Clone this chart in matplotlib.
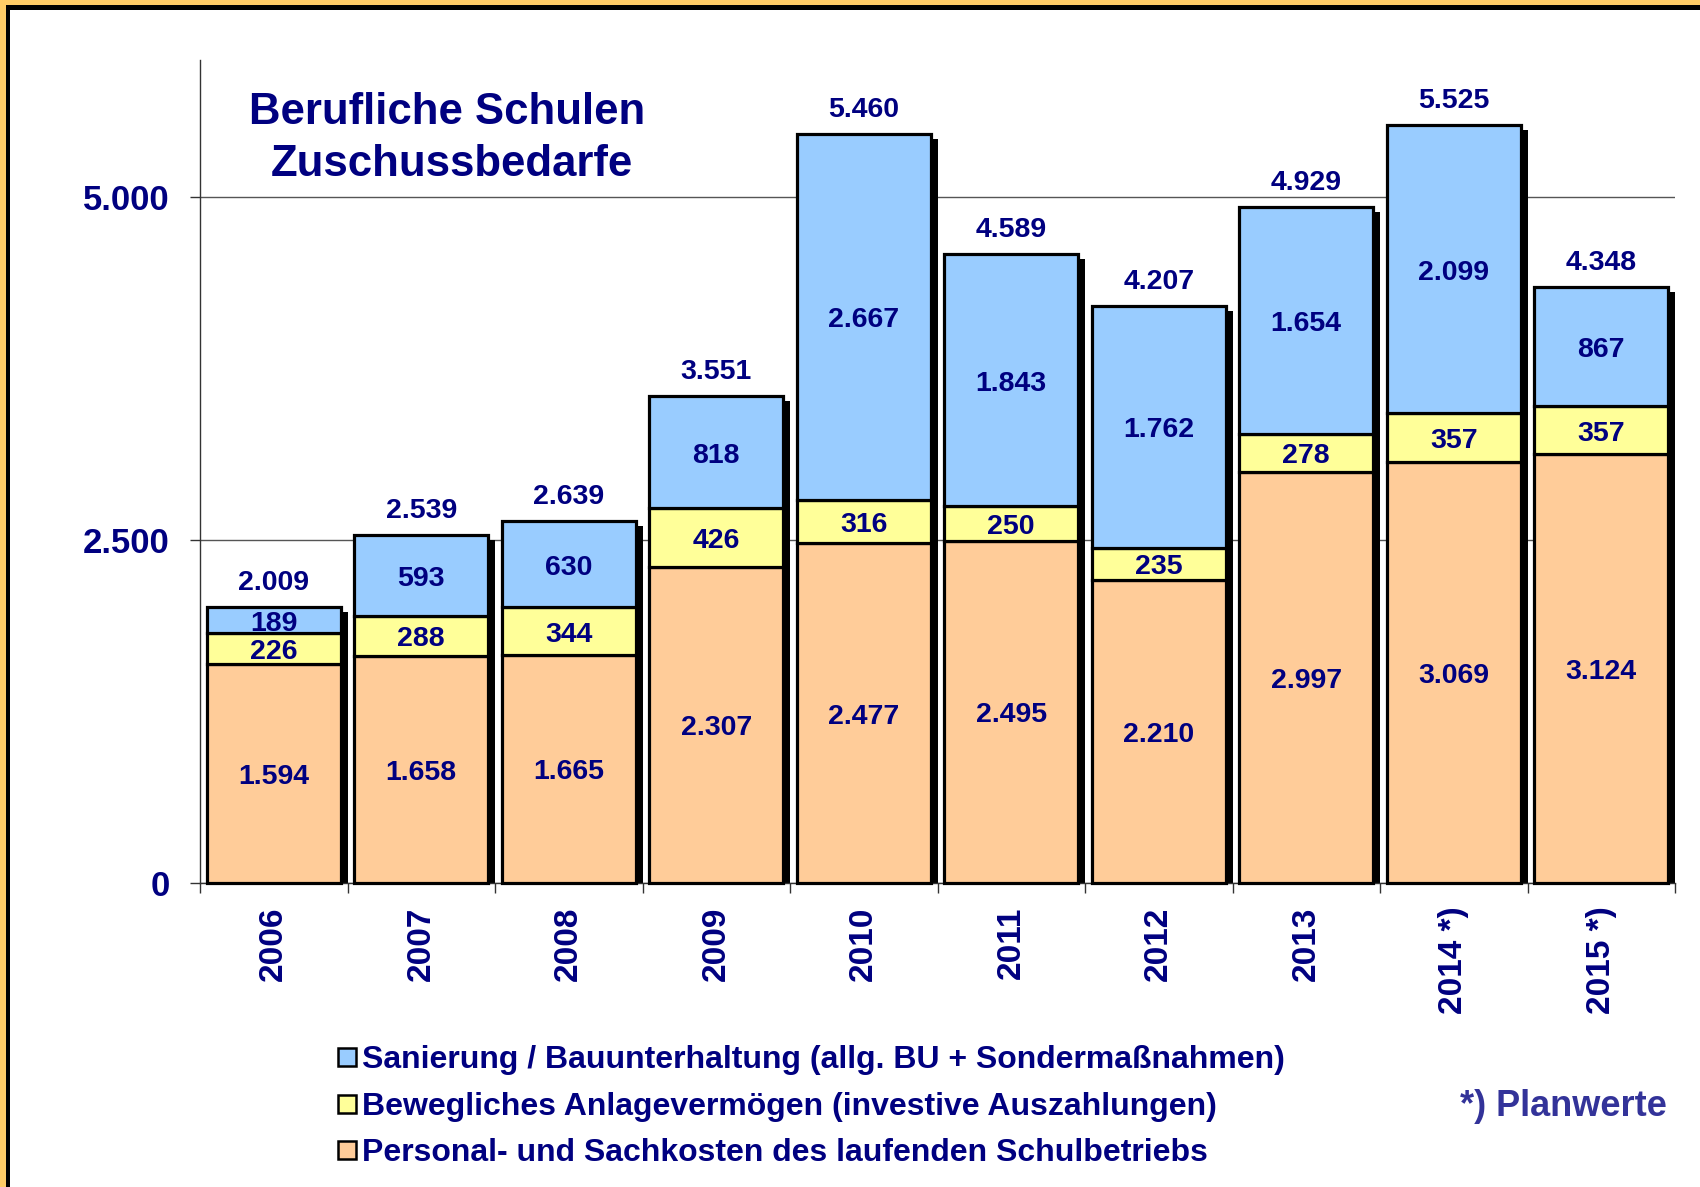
import matplotlib
matplotlib.use('Agg')
import matplotlib.pyplot as plt
from matplotlib.patches import Rectangle
import numpy as np

plt.rcParams['font.family'] = ['Liberation Sans', 'DejaVu Sans']
plt.rcParams['font.weight'] = 'bold'

# ---- Daten (Tsd. EUR) ----
years = ['2006', '2007', '2008', '2009', '2010', '2011', '2012', '2013', '2014 *)', '2015 *)']
personal = [1594, 1658, 1665, 2307, 2477, 2495, 2210, 2997, 3069, 3124]
beweglich = [226, 288, 344, 426, 316, 250, 235, 278, 357, 357]
sanierung = [189, 593, 630, 818, 2667, 1843, 1762, 1654, 2099, 867]
summen = [2009, 2539, 2639, 3551, 5460, 4589, 4207, 4929, 5525, 4348]

legend_labels = ['Sanierung / Bauunterhaltung (allg. BU + Sondermaßnahmen)',
                 'Bewegliches Anlagevermögen (investive Auszahlungen)',
                 'Personal- und Sachkosten des laufenden Schulbetriebs']

C_BLAU = '#99CCFF'
C_GELB = '#FFFF99'
C_ORANGE = '#FFCC99'
NAVY = '#000080'


def fmt(v):
    return f'{v:,}'.replace(',', '.')


W, H = 1700, 1187
fig = plt.figure(figsize=(W / 100, H / 100), dpi=100)
ax = fig.add_axes([200 / W, 1 - 883 / H, 1475 / W, 823 / H])

x = np.arange(len(years))
bw = 0.91
unit_px = 823 / 6000  # Pixel pro Einheit in y

p = np.array(personal)
b = np.array(beweglich)
s = np.array(sanierung)
top = p + b + s

# Schatten rechts hinter den Säulen
dx = 7 / 147.5
dy = 5 / unit_px
for xi, t in zip(x, top):
    ax.add_patch(Rectangle((xi - bw / 2 + dx, 0), bw, t - dy, facecolor='black',
                           edgecolor='none', zorder=2))

kw = dict(width=bw, edgecolor='black', linewidth=2.3, zorder=3, clip_on=False)
ax.bar(x, p, color=C_ORANGE, **kw)
ax.bar(x, b, bottom=p, color=C_GELB, **kw)
ax.bar(x, s, bottom=p + b, color=C_BLAU, **kw)

# Beschriftungen etwas tiefer setzen, damit die Ziffern mittig sitzen
off = 3.5 / unit_px
lab = dict(ha='center', va='center', color=NAVY, fontsize=20.5, fontweight='bold', zorder=5)
for xi in x:
    ax.text(xi, p[xi] / 2 - off, fmt(personal[xi]), **lab)
    ax.text(xi, p[xi] + b[xi] / 2 - off, fmt(beweglich[xi]), **lab)
    ax.text(xi, p[xi] + b[xi] + s[xi] / 2 - off, fmt(sanierung[xi]), **lab)
    ax.text(xi, top[xi] + 200 - off, fmt(summen[xi]), **lab)

ax.set_xlim(-0.5, len(years) - 0.5)
ax.set_ylim(0, 6000)
ax.set_yticks([0, 2500, 5000])
ax.set_yticklabels([fmt(v) for v in [0, 2500, 5000]], fontsize=25,
                   fontweight='bold', color=NAVY)
ax.tick_params(axis='y', length=7, width=1, color='#333333', pad=15)
ax.set_xticks(x)
ax.set_xticklabels(years, rotation=90, fontsize=24, fontweight='bold', color=NAVY,
                   va='top', ha='center')
ax.set_xticks(np.arange(-0.5, len(years)), minor=True)
ax.tick_params(axis='x', which='major', length=0, pad=17)
ax.tick_params(axis='x', which='minor', length=7, width=1, color='#333333')

ax.grid(axis='y', color='#555555', linewidth=1, zorder=0)
ax.set_axisbelow(True)
for sp in ['top', 'right']:
    ax.spines[sp].set_visible(False)
ax.spines['left'].set_color('#333333')
ax.spines['left'].set_linewidth(1)
ax.spines['bottom'].set_color('#333333')
ax.spines['bottom'].set_linewidth(1)

# Titel
fig.text(447 / W, 1 - 113 / H, 'Berufliche Schulen', ha='center', va='center',
         fontsize=31.5, fontweight='bold', color=NAVY)
fig.text(452 / W, 1 - 164 / H, 'Zuschussbedarfe', ha='center', va='center',
         fontsize=31.5, fontweight='bold', color=NAVY)

# Legende von Hand
for i, (lbl, col) in enumerate(zip(legend_labels, [C_BLAU, C_GELB, C_ORANGE])):
    yc = 1057 + i * 46.5
    fig.patches.append(Rectangle((338 / W, 1 - (yc + 9) / H), 18 / W, 18 / H,
                                 transform=fig.transFigure, facecolor=col,
                                 edgecolor='black', linewidth=1.8))
    fig.text(362 / W, 1 - (yc + 3) / H, lbl, ha='left', va='center', fontsize=23,
             fontweight='bold', color=NAVY)

fig.text(1667 / W, 1 - 1107 / H, '*) Planwerte', ha='right', va='center',
         fontsize=26, fontweight='bold', color='#333399')

# Rahmen oben und links
fig.patches.append(Rectangle((0, 0), 6 / W, 1, transform=fig.transFigure,
                             facecolor='#FFCC66', edgecolor='none'))
fig.patches.append(Rectangle((0, 1 - 5 / H), 1, 5 / H, transform=fig.transFigure,
                             facecolor='#FFCC66', edgecolor='none'))
fig.patches.append(Rectangle((6 / W, 0), 4 / W, 1 - 5 / H, transform=fig.transFigure,
                             facecolor='black', edgecolor='none'))
fig.patches.append(Rectangle((6 / W, 1 - 10 / H), 1, 5 / H, transform=fig.transFigure,
                             facecolor='black', edgecolor='none'))

fig.savefig('out.png', dpi=100)
